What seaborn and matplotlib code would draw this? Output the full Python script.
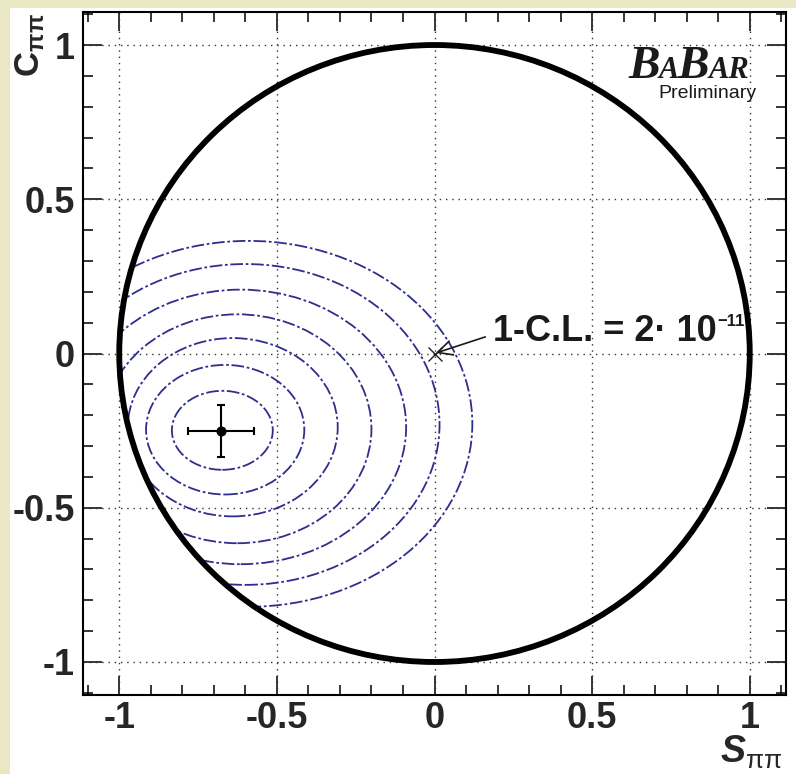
import numpy as np
import pandas as pd
import matplotlib
matplotlib.use("Agg")
import matplotlib.pyplot as plt
import seaborn as sns
from matplotlib.patches import Ellipse, Circle, Rectangle
from matplotlib.ticker import MultipleLocator, FuncFormatter

# Confidence-level contours (ellipse centre, half-widths in S and C)
contour_s0 = [-0.673, -0.664, -0.640, -0.625, -0.615, -0.600, -0.590]
contour_c0 = [-0.249, -0.247, -0.239, -0.244, -0.238, -0.230, -0.228]
contour_ds = [0.160, 0.251, 0.333, 0.425, 0.525, 0.616, 0.710]
contour_dc = [0.128, 0.210, 0.289, 0.371, 0.445, 0.520, 0.593]

# Central value with its errors
best_s = [-0.677]
best_c = [-0.251]
err_s = [0.104]
err_c = [0.085]

# Point at which the confidence level is quoted
cl_s = [0.0]
cl_c = [0.0]
cl_label = "1-C.L. = 2\u00b7 10"
cl_exponent = "\u221211"

# Physical boundary S^2 + C^2 = 1
boundary_radius = 1.0

major_ticks = [-1.0, -0.5, 0.0, 0.5, 1.0]

W, H = 796, 774
sns.set_theme(style="white")
plt.rcParams["font.family"] = ["Liberation Sans", "DejaVu Sans"]
plt.rcParams["mathtext.fontset"] = "custom"
plt.rcParams["mathtext.rm"] = "Liberation Sans:bold"
plt.rcParams["mathtext.it"] = "Liberation Sans:italic:bold"
plt.rcParams["mathtext.bf"] = "Liberation Sans:bold"
plt.rcParams["mathtext.default"] = "regular"
plt.rcParams["axes.unicode_minus"] = False

fig = plt.figure(figsize=(W / 100, H / 100), dpi=100, facecolor="#E9E7C4")
fig.patches.append(Rectangle((10 / W, 0), 1 - 10 / W, 1 - 8 / H,
                             transform=fig.transFigure, facecolor="white",
                             edgecolor="none", zorder=-10))

ax = fig.add_axes([83 / W, 79 / H, 703 / W, 683 / H])
ax.set_zorder(1)
ax.set_facecolor("white")
ax.set_xlim(-1.115, 1.115)
ax.set_ylim(-1.107, 1.107)

# dotted grid at the major ticks
for v in major_ticks:
    ax.axvline(v, color="#333333", lw=1.0, ls=(0, (1, 3.5)), zorder=1)
    ax.axhline(v, color="#333333", lw=1.0, ls=(0, (1, 3.5)), zorder=1)

clip = Circle((0, 0), boundary_radius, transform=ax.transData)
for s0, c0, ds, dc in zip(contour_s0, contour_c0, contour_ds, contour_dc):
    e = Ellipse((s0, c0), 2 * ds, 2 * dc, fill=False, edgecolor="#2E2E8C",
                lw=1.3, ls=(0, (7, 1.5, 1.5, 1.5)), zorder=2)
    ax.add_patch(e)
    e.set_clip_path(clip)

ax.add_patch(Circle((0, 0), boundary_radius, fill=False, edgecolor="black",
                    lw=4.2, zorder=4))

pts = pd.DataFrame({"S": best_s, "C": best_c})
ax.errorbar(best_s, best_c, xerr=err_s, yerr=err_c, fmt="none", ecolor="black",
            elinewidth=1.5, capsize=3, capthick=1.5, zorder=5)
sns.scatterplot(data=pts, x="S", y="C", color="black", s=45, ax=ax,
                legend=False, zorder=6, edgecolor="black")

ax.plot(cl_s, cl_c, marker="x", ms=10, mew=1.0, color="#222222",
        ls="none", zorder=6)
note = ax.annotate(cl_label, xy=(cl_s[0], cl_c[0]), xytext=(0.184, 0.042),
                   textcoords="data", ha="left", va="baseline", fontsize=26,
                   fontweight="bold", color="#1a1a1a", zorder=7,
                   arrowprops=dict(arrowstyle="->", lw=1.2, color="#1a1a1a",
                                   shrinkA=3, shrinkB=1, relpos=(0, 0.4)))

# axes styling
ax.xaxis.set_major_locator(MultipleLocator(0.5))
ax.yaxis.set_major_locator(MultipleLocator(0.5))
ax.xaxis.set_minor_locator(MultipleLocator(0.1))
ax.yaxis.set_minor_locator(MultipleLocator(0.1))
fmt = FuncFormatter(lambda v, p: "0" if abs(v) < 1e-9 else f"{v:g}")
ax.xaxis.set_major_formatter(fmt)
ax.yaxis.set_major_formatter(fmt)
ax.tick_params(which="both", direction="in", top=True, right=True,
               bottom=True, left=True, color="black", width=1.1)
ax.tick_params(which="major", length=14, labelsize=26)
ax.tick_params(which="minor", length=7)
ax.tick_params(axis="x", pad=4)
ax.tick_params(axis="y", pad=6)
for lab in ax.get_xticklabels() + ax.get_yticklabels():
    lab.set_fontweight("bold")
for sp in ax.spines.values():
    sp.set_color("black")
    sp.set_linewidth(1.5)
    sp.set_zorder(8)

ax.set_xlabel(r"$\mathit{S}_{\pi\pi}$", fontsize=27, loc="right")
ax.xaxis.set_label_coords(0.994, -0.056)
ax.set_ylabel(r"C$_{\pi\pi}$", fontsize=25, fontweight="bold", loc="top")
ax.yaxis.set_label_coords(-0.051, 0.998)

fig.canvas.draw()
renderer = fig.canvas.get_renderer()

# small exponent after the confidence-level text
nb = note.get_window_extent(renderer)
baseline_px = ax.transData.transform((0.184, 0.042))[1]
fig.text((nb.x1 + 1) / W, (baseline_px + 15) / H, cl_exponent, fontsize=12,
         fontweight="bold", color="#1a1a1a", va="baseline", ha="left",
         zorder=9)

# experiment logo
x = 628
base_y = (H - 78) / H
for piece, size in [("B", 34), ("A", 22), ("B", 34), ("AR", 22)]:
    t = fig.text(x / W, base_y, piece, fontsize=size, family="Liberation Serif",
                 fontweight="bold", style="italic", va="baseline", ha="left",
                 color="#1a1a1a", zorder=9)
    bb = t.get_window_extent(renderer)
    x = bb.x1 - 1
fig.text(757 / W, (H - 98) / H, "Preliminary", fontsize=14, ha="right",
         va="baseline", color="#1a1a1a", zorder=9)

fig.savefig("out.png", dpi=100, facecolor=fig.get_facecolor())
